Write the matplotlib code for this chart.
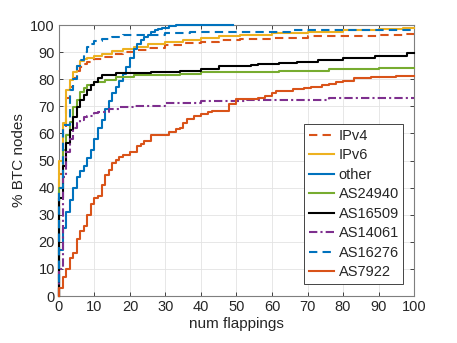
import matplotlib
matplotlib.use("Agg")
import matplotlib.pyplot as plt

# ---- data: step breakpoints (num flappings -> % BTC nodes) ----
ipv4_x = [0, 1, 2, 3, 4, 5, 6, 7, 8, 10, 12, 15, 18, 21, 25, 30, 35, 40, 45, 51, 60, 70, 80, 90, 97, 100]
ipv4_y = [45, 62, 73, 77, 80.5, 83, 84.5, 85.8, 86.5, 87.5, 88.3, 89.3, 90.1, 90.8, 91.6, 92.5, 93.2, 93.9,
          94.4, 95, 95.4, 95.8, 96.1, 96.4, 96.7, 96.7]

ipv6_x = [0, 1, 2, 3, 4, 5, 6, 7, 8, 10, 12, 15, 18, 21, 25, 30, 35, 40, 45, 51, 60, 70, 80, 90, 97, 100]
ipv6_y = [50, 64, 76, 79.6, 82.7, 85, 86.6, 87.4, 87.9, 88.5, 89.3, 90.5, 91.3, 92, 92.9, 93.8, 94.5, 95.3,
          95.9, 96.5, 97.1, 97.6, 98, 98.4, 98.8, 98.8]

other_x = [0, 1, 2, 3, 4, 5, 6, 7, 8, 9, 10, 11, 12, 13, 14, 15, 16, 17, 18, 19, 20, 21, 22, 23, 24, 25,
           26, 27, 28, 29, 31, 33, 49]
other_y = [17, 25, 31, 35.5, 40, 44, 46, 48, 51, 54, 58, 62, 65, 69, 72, 75, 77, 79.5, 82, 84.5, 88, 91,
           93, 94.5, 95.7, 96.5, 97.3, 98, 98.6, 99, 99.5, 100, 100]

as24940_x = [0, 1, 2, 3, 4, 5, 6, 7, 8, 10, 13, 16, 21, 34, 40, 50, 62, 76, 90, 100]
as24940_y = [40, 54, 59.5, 64.3, 69.9, 72.3, 75.4, 76.6, 77.9, 79.1, 79.9, 80.9, 81.5, 82, 82.6, 82.8,
             83.1, 83.8, 84.1, 84.3]

as16509_x = [0, 1, 2, 3, 4, 5, 6, 7, 8, 9, 10, 11, 12, 16, 26, 34, 40, 45, 54, 56, 62, 67, 73, 80, 89, 98, 100]
as16509_y = [36, 48, 56.4, 61.3, 66.2, 69.9, 72.3, 74.2, 76, 77.9, 79.1, 80.3, 81.5, 82.2, 82.8, 83.1,
             83.6, 84.9, 85.2, 85.6, 86.1, 86.5, 87.2, 87.7, 88.6, 89.6, 89.6]

as14061_x = [0, 1, 2, 3, 4, 5, 6, 7, 8, 10, 11, 14, 17, 21, 30, 40, 53, 76, 100]
as14061_y = [10, 44, 53, 58, 62, 64, 65, 66, 66.6, 67.4, 68, 69, 69.7, 70.1, 71.1, 72, 72.3, 73, 73.1]

as16276_x = [0, 1, 3, 4, 5, 6, 7, 8, 9, 10, 12, 15, 18, 30, 37, 65, 100]
as16276_y = [40, 63, 76, 80, 85, 87, 90, 92, 93, 94, 95, 95.7, 96.3, 97, 97.5, 98.1, 98.3]

as7922_x = [0, 1, 2, 3, 4, 5, 6, 7, 8, 9, 10, 11, 12, 13, 14, 15, 16, 17, 18, 20, 22, 23, 24, 26, 31,
            33, 34, 35, 36, 38, 40, 42, 43, 48, 50, 56, 58, 60, 61, 66, 69, 71, 74, 76, 78, 80, 83, 88, 95, 100]
as7922_y = [3, 7, 10, 14, 16, 21, 24, 26, 30, 34, 36, 37, 41, 44.5, 46.5, 49, 50.3, 51.3, 52, 53, 55.3,
            56, 57.2, 59.3, 60.5, 61.5, 62.1, 63.9, 65.2, 66.4, 67, 67.9, 68.3, 70.7, 72.6, 73.2, 73.8,
            74.8, 75.7, 76.3, 76.9, 77.3, 77.8, 78.3, 79, 79.4, 80.4, 80.9, 81.2, 81.3]

series = [
    ("IPv4", ipv4_x, ipv4_y, "#D95319", (0, (4, 2.5))),
    ("IPv6", ipv6_x, ipv6_y, "#EDB120", "-"),
    ("other", other_x, other_y, "#0072BD", "-"),
    ("AS24940", as24940_x, as24940_y, "#77AC30", "-"),
    ("AS16509", as16509_x, as16509_y, "black", "-"),
    ("AS14061", as14061_x, as14061_y, "#7E2F8E", (0, (4, 1.5, 1, 1.5))),
    ("AS16276", as16276_x, as16276_y, "#0072BD", (0, (4, 2.5))),
    ("AS7922", as7922_x, as7922_y, "#D95319", "-"),
]

plt.rcParams["font.family"] = ["Liberation Sans", "DejaVu Sans"]
fig = plt.figure(figsize=(4.57, 3.43), dpi=100)
ax = fig.add_axes([0.129, 0.137, 0.777, 0.790])

for name, xs, ys, color, ls in series:
    # lines sit on top of the frame like in MATLAB (e.g. "other" along y=100)
    ax.plot([0] + xs, [0] + ys, drawstyle="steps-post", color=color, linestyle=ls, lw=1.5,
            label=name, clip_on=False, zorder=3)

ax.set_xlim(0, 100)
ax.set_ylim(0, 100)
ax.set_xticks(range(0, 101, 10))
ax.set_yticks(range(0, 101, 10))
ax.grid(True, color="#e3e3e3", lw=0.6)
ax.set_axisbelow(True)
ax.tick_params(direction="in", top=True, right=True, length=3, width=0.6,
               colors="#262626", labelsize=10.5, pad=3)
for s in ax.spines.values():
    s.set_color("#7f7f7f")
    s.set_linewidth(0.8)

ax.set_xlabel("num flappings", fontsize=11, color="#262626", labelpad=2)
ax.set_ylabel("% BTC nodes", fontsize=11, color="#262626", labelpad=3)

leg = ax.legend(loc="lower right", bbox_to_anchor=(0.97, 0.045), fontsize=10.5,
                frameon=True, fancybox=False, edgecolor="#262626", framealpha=1,
                handlelength=1.75, handletextpad=0.3, labelspacing=0.38,
                borderpad=0.3, borderaxespad=0)
leg.get_frame().set_linewidth(0.6)
leg.set_zorder(5)
for t in leg.get_texts():
    t.set_color("#262626")

fig.savefig("out.png", dpi=100)
